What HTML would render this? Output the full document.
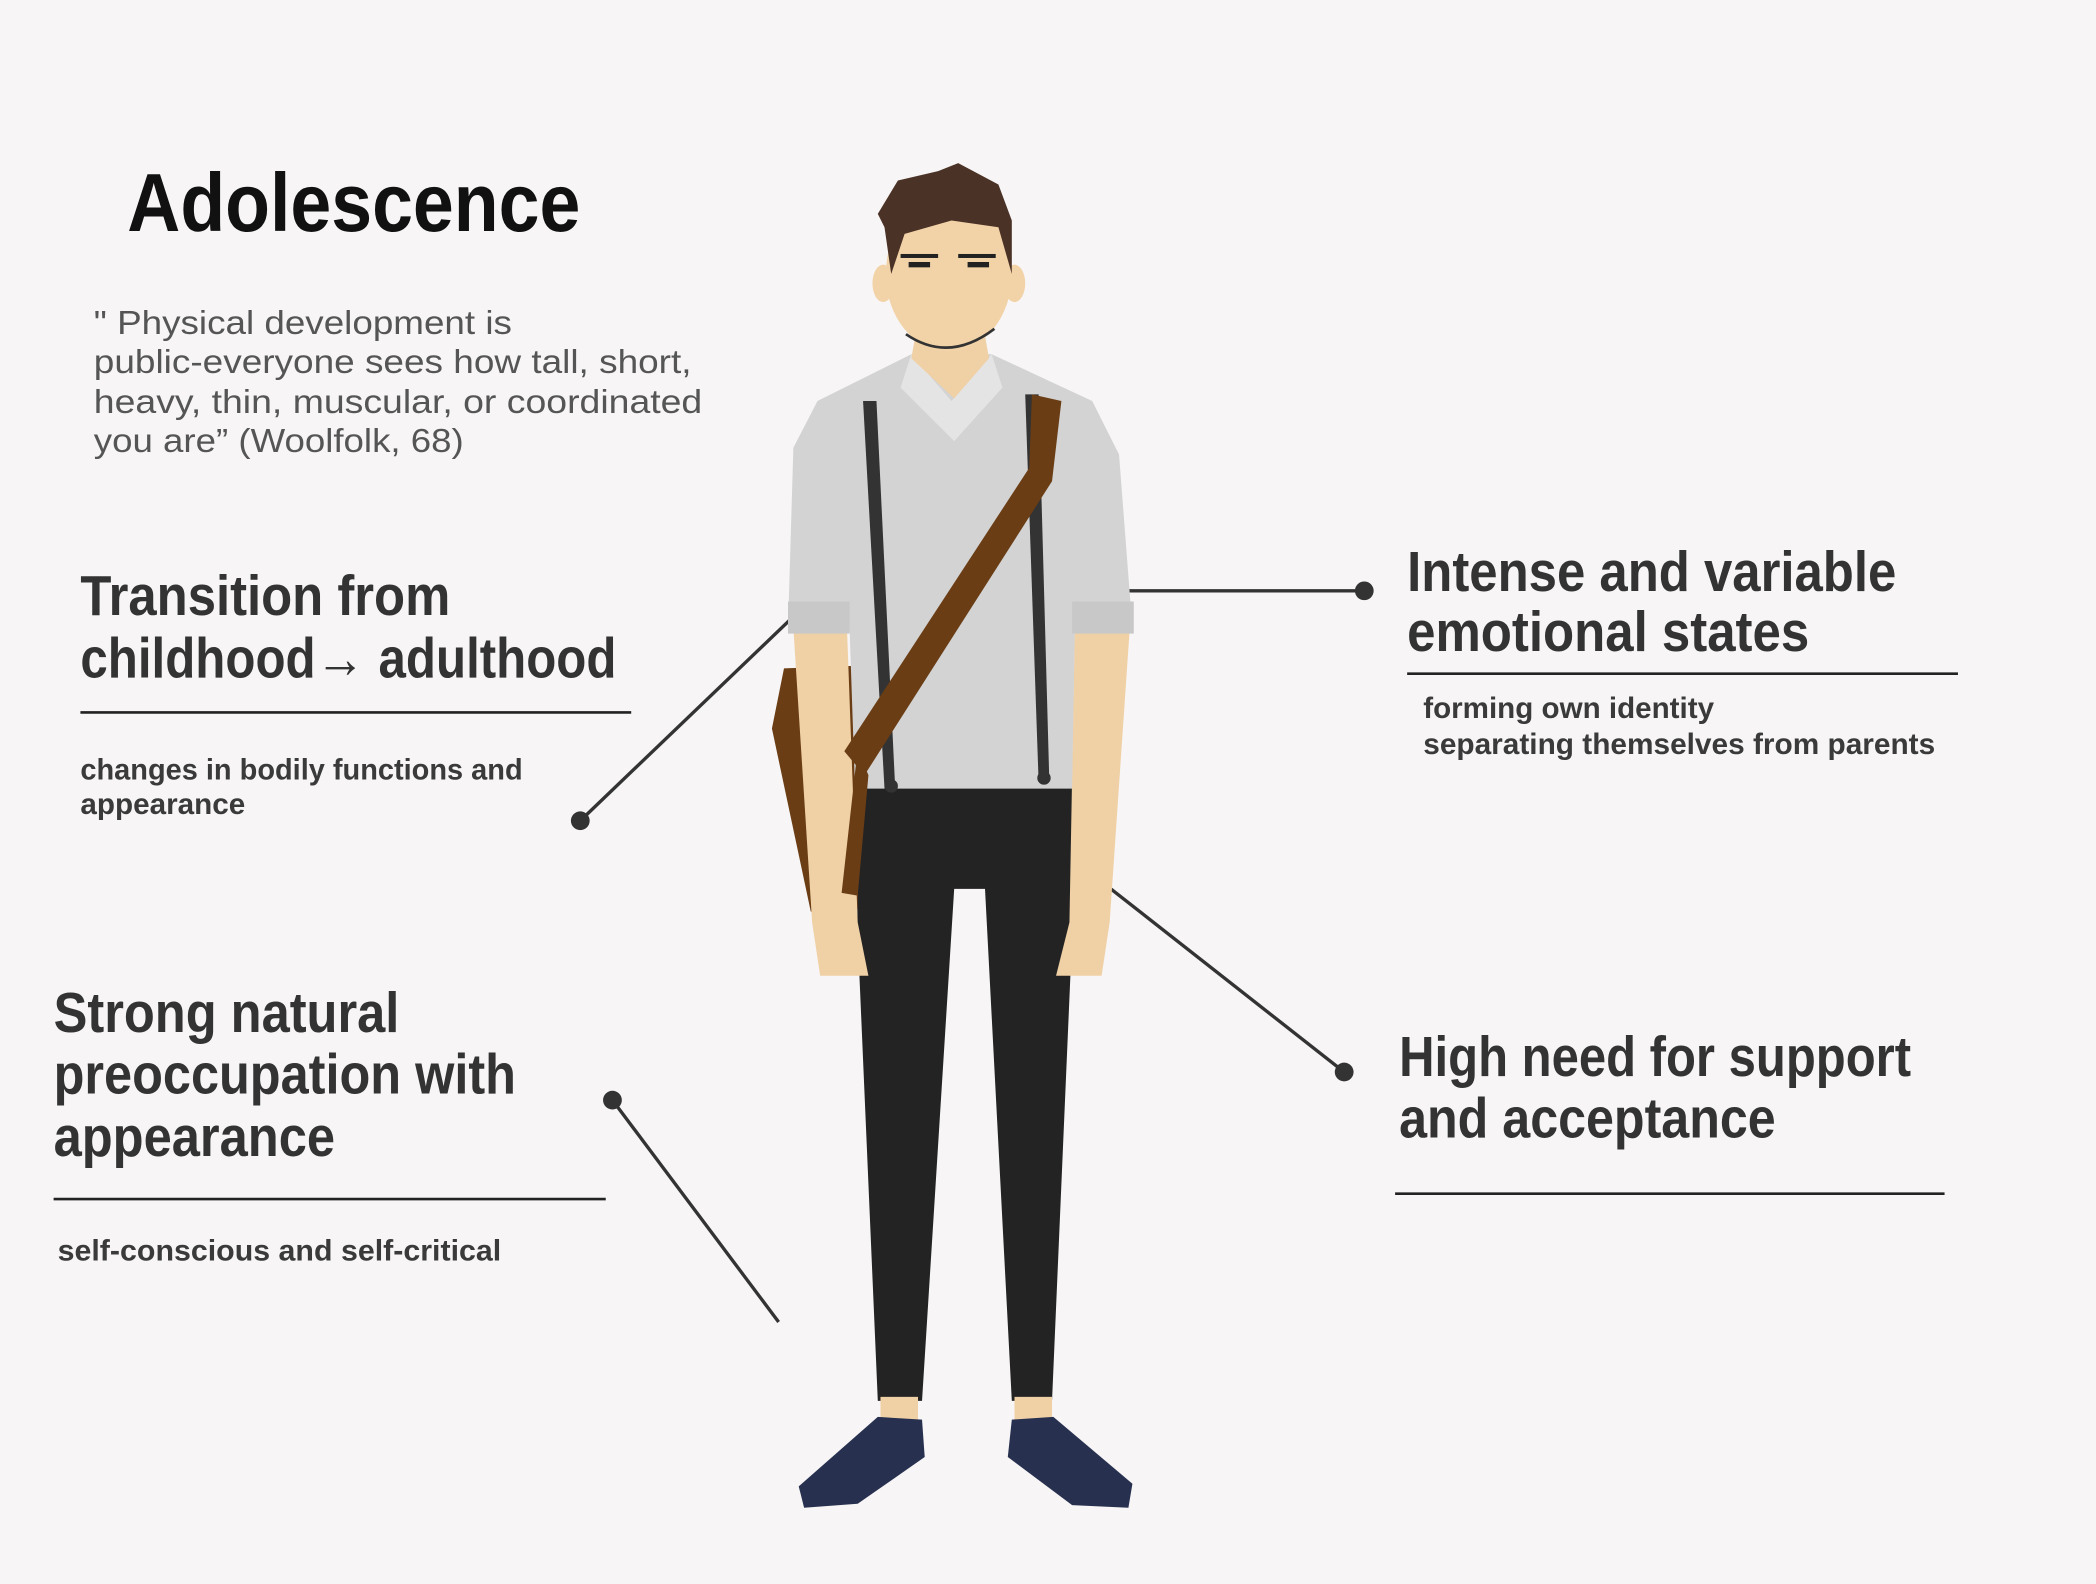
<!DOCTYPE html>
<html><head><meta charset="utf-8"><style>
html,body{margin:0;padding:0;background:#f7f5f5;}
svg{display:block;}
.h{font-family:"Liberation Sans",sans-serif;font-weight:bold;fill:#333;}
.s{font-family:"Liberation Sans",sans-serif;font-weight:bold;fill:#3a3a3a;font-size:22px;}
.q{font-family:"Liberation Sans",sans-serif;fill:#555;font-size:25px;}
</style></head><body>
<svg width="2096" height="1584" viewBox="0 0 1564 1185" preserveAspectRatio="none">
<rect width="1564" height="1185" fill="#f7f5f5"/>
<text x="95" y="173" class="h" style="font-size:62px;fill:#111" textLength="338" lengthAdjust="spacingAndGlyphs">Adolescence</text>
<text class="q" x="70" y="250" textLength="312" lengthAdjust="spacingAndGlyphs">" Physical development is</text>
<text class="q" x="70" y="279" textLength="446" lengthAdjust="spacingAndGlyphs">public-everyone sees how tall, short,</text>
<text class="q" x="70" y="309" textLength="454" lengthAdjust="spacingAndGlyphs">heavy, thin, muscular, or coordinated</text>
<text class="q" x="70" y="338" textLength="276" lengthAdjust="spacingAndGlyphs">you are” (Woolfolk, 68)</text>

<text class="h" x="60" y="460" style="font-size:42px" textLength="276" lengthAdjust="spacingAndGlyphs">Transition from</text>
<text class="h" x="60" y="507" style="font-size:42px" textLength="400" lengthAdjust="spacingAndGlyphs">childhood→ adulthood</text>
<line x1="60" y1="533" x2="471" y2="533" stroke="#222" stroke-width="2"/>
<text class="s" x="60" y="583" textLength="330" lengthAdjust="spacingAndGlyphs">changes in bodily functions and</text>
<text class="s" x="60" y="609" textLength="123" lengthAdjust="spacingAndGlyphs">appearance</text>
<line x1="433" y1="614" x2="610" y2="444" stroke="#333" stroke-width="2.5"/>
<circle cx="433" cy="614" r="7" fill="#333"/>

<text class="h" x="1050" y="442" style="font-size:42px" textLength="365" lengthAdjust="spacingAndGlyphs">Intense and variable</text>
<text class="h" x="1050" y="487" style="font-size:42px" textLength="300" lengthAdjust="spacingAndGlyphs">emotional states</text>
<line x1="1050" y1="504" x2="1461" y2="504" stroke="#222" stroke-width="2"/>
<text class="s" x="1062" y="537" textLength="217" lengthAdjust="spacingAndGlyphs">forming own identity</text>
<text class="s" x="1062" y="564" textLength="382" lengthAdjust="spacingAndGlyphs">separating themselves from parents</text>
<line x1="806" y1="442" x2="1018" y2="442" stroke="#333" stroke-width="2.5"/>
<circle cx="1018" cy="442" r="7" fill="#333"/>

<text class="h" x="40" y="772" style="font-size:42px" textLength="258" lengthAdjust="spacingAndGlyphs">Strong natural</text>
<text class="h" x="40" y="818" style="font-size:42px" textLength="345" lengthAdjust="spacingAndGlyphs">preoccupation with</text>
<text class="h" x="40" y="865" style="font-size:42px" textLength="210" lengthAdjust="spacingAndGlyphs">appearance</text>
<line x1="40" y1="897" x2="452" y2="897" stroke="#222" stroke-width="2"/>
<text class="s" x="43" y="943" textLength="331" lengthAdjust="spacingAndGlyphs">self-conscious and self-critical</text>
<line x1="457" y1="823" x2="581" y2="989" stroke="#333" stroke-width="2.5"/>
<circle cx="457" cy="823" r="7" fill="#333"/>

<text class="h" x="1044" y="805" style="font-size:42px" textLength="382" lengthAdjust="spacingAndGlyphs">High need for support</text>
<text class="h" x="1044" y="851" style="font-size:42px" textLength="281" lengthAdjust="spacingAndGlyphs">and acceptance</text>
<line x1="1041" y1="893" x2="1451" y2="893" stroke="#222" stroke-width="2"/>
<line x1="820" y1="658" x2="1003" y2="802" stroke="#333" stroke-width="2.5"/>
<circle cx="1003" cy="802" r="7" fill="#333"/>

<!-- pants -->
<path d="M638 585 L800 585 L800 700 L785 1048 L755 1048 L735 665 L712 665 L688 1048 L655 1048 L640 700 Z" fill="#232323"/>
<rect x="657" y="1045" width="28" height="20" fill="#f0d0a5"/>
<rect x="757" y="1045" width="28" height="20" fill="#f0d0a5"/>
<path d="M655 1060 L688 1062 L690 1090 L640 1125 L600 1128 L596 1112 Z" fill="#27304f"/>
<path d="M755 1062 L786 1060 L845 1110 L842 1128 L800 1126 L752 1090 Z" fill="#27304f"/>
<!-- bag -->
<path d="M585 500 L642 498 L640 680 L605 682 L576 545 Z" fill="#6a3d15"/>
<!-- arms -->
<path d="M592 470 L632 470 L640 690 L648 730 L612 730 L606 690 Z" fill="#f0d0a5"/>
<path d="M802 470 L843 470 L828 690 L822 730 L788 730 L798 690 Z" fill="#f0d0a5"/>
<!-- shirt -->
<path d="M680 265 L740 265 L815 300 L835 340 L845 470 L802 472 L800 590 L638 590 L634 472 L588 470 L592 335 L610 300 Z" fill="#d3d3d3"/>
<path d="M680 265 L710 300 L740 265 L748 290 L712 330 L672 290 Z" fill="#e4e4e4"/>
<rect x="588" y="450" width="46" height="24" fill="#c8c8c8"/>
<rect x="800" y="450" width="46" height="24" fill="#c8c8c8"/>
<path d="M644 300 L654 300 L668 590 L660 590 Z" fill="#333"/>
<path d="M765 295 L775 295 L783 585 L775 585 Z" fill="#333"/>
<circle cx="665" cy="588" r="5" fill="#333"/><circle cx="779" cy="582" r="5" fill="#333"/>
<path d="M770 295 L792 300 L785 360 L645 580 L630 562 L768 350 Z" fill="#6a3d15"/>
<path d="M640 560 L648 580 L640 670 L628 668 Z" fill="#6a3d15"/>
<!-- neck/head -->
<path d="M686 235 L732 235 L738 268 L712 298 L680 268 Z" fill="#f0d0a5"/>
<ellipse cx="708" cy="205" rx="47" ry="58" fill="#f2d3a8"/>
<ellipse cx="659" cy="212" rx="8" ry="14" fill="#f2d3a8"/>
<ellipse cx="757" cy="212" rx="8" ry="14" fill="#f2d3a8"/>
<path d="M655 160 L670 135 L700 128 L715 122 L745 138 L755 165 L755 205 L745 170 L710 165 L675 175 L665 205 L660 170 Z" fill="#4b3226"/>
<rect x="672" y="190" width="28" height="3" fill="#222"/><rect x="715" y="190" width="28" height="3" fill="#222"/>
<rect x="678" y="196" width="16" height="4" fill="#222"/><rect x="722" y="196" width="16" height="4" fill="#222"/>
<path d="M676 250 Q708 272 742 246" stroke="#333" stroke-width="2" fill="none"/>
</svg>
</body></html>
